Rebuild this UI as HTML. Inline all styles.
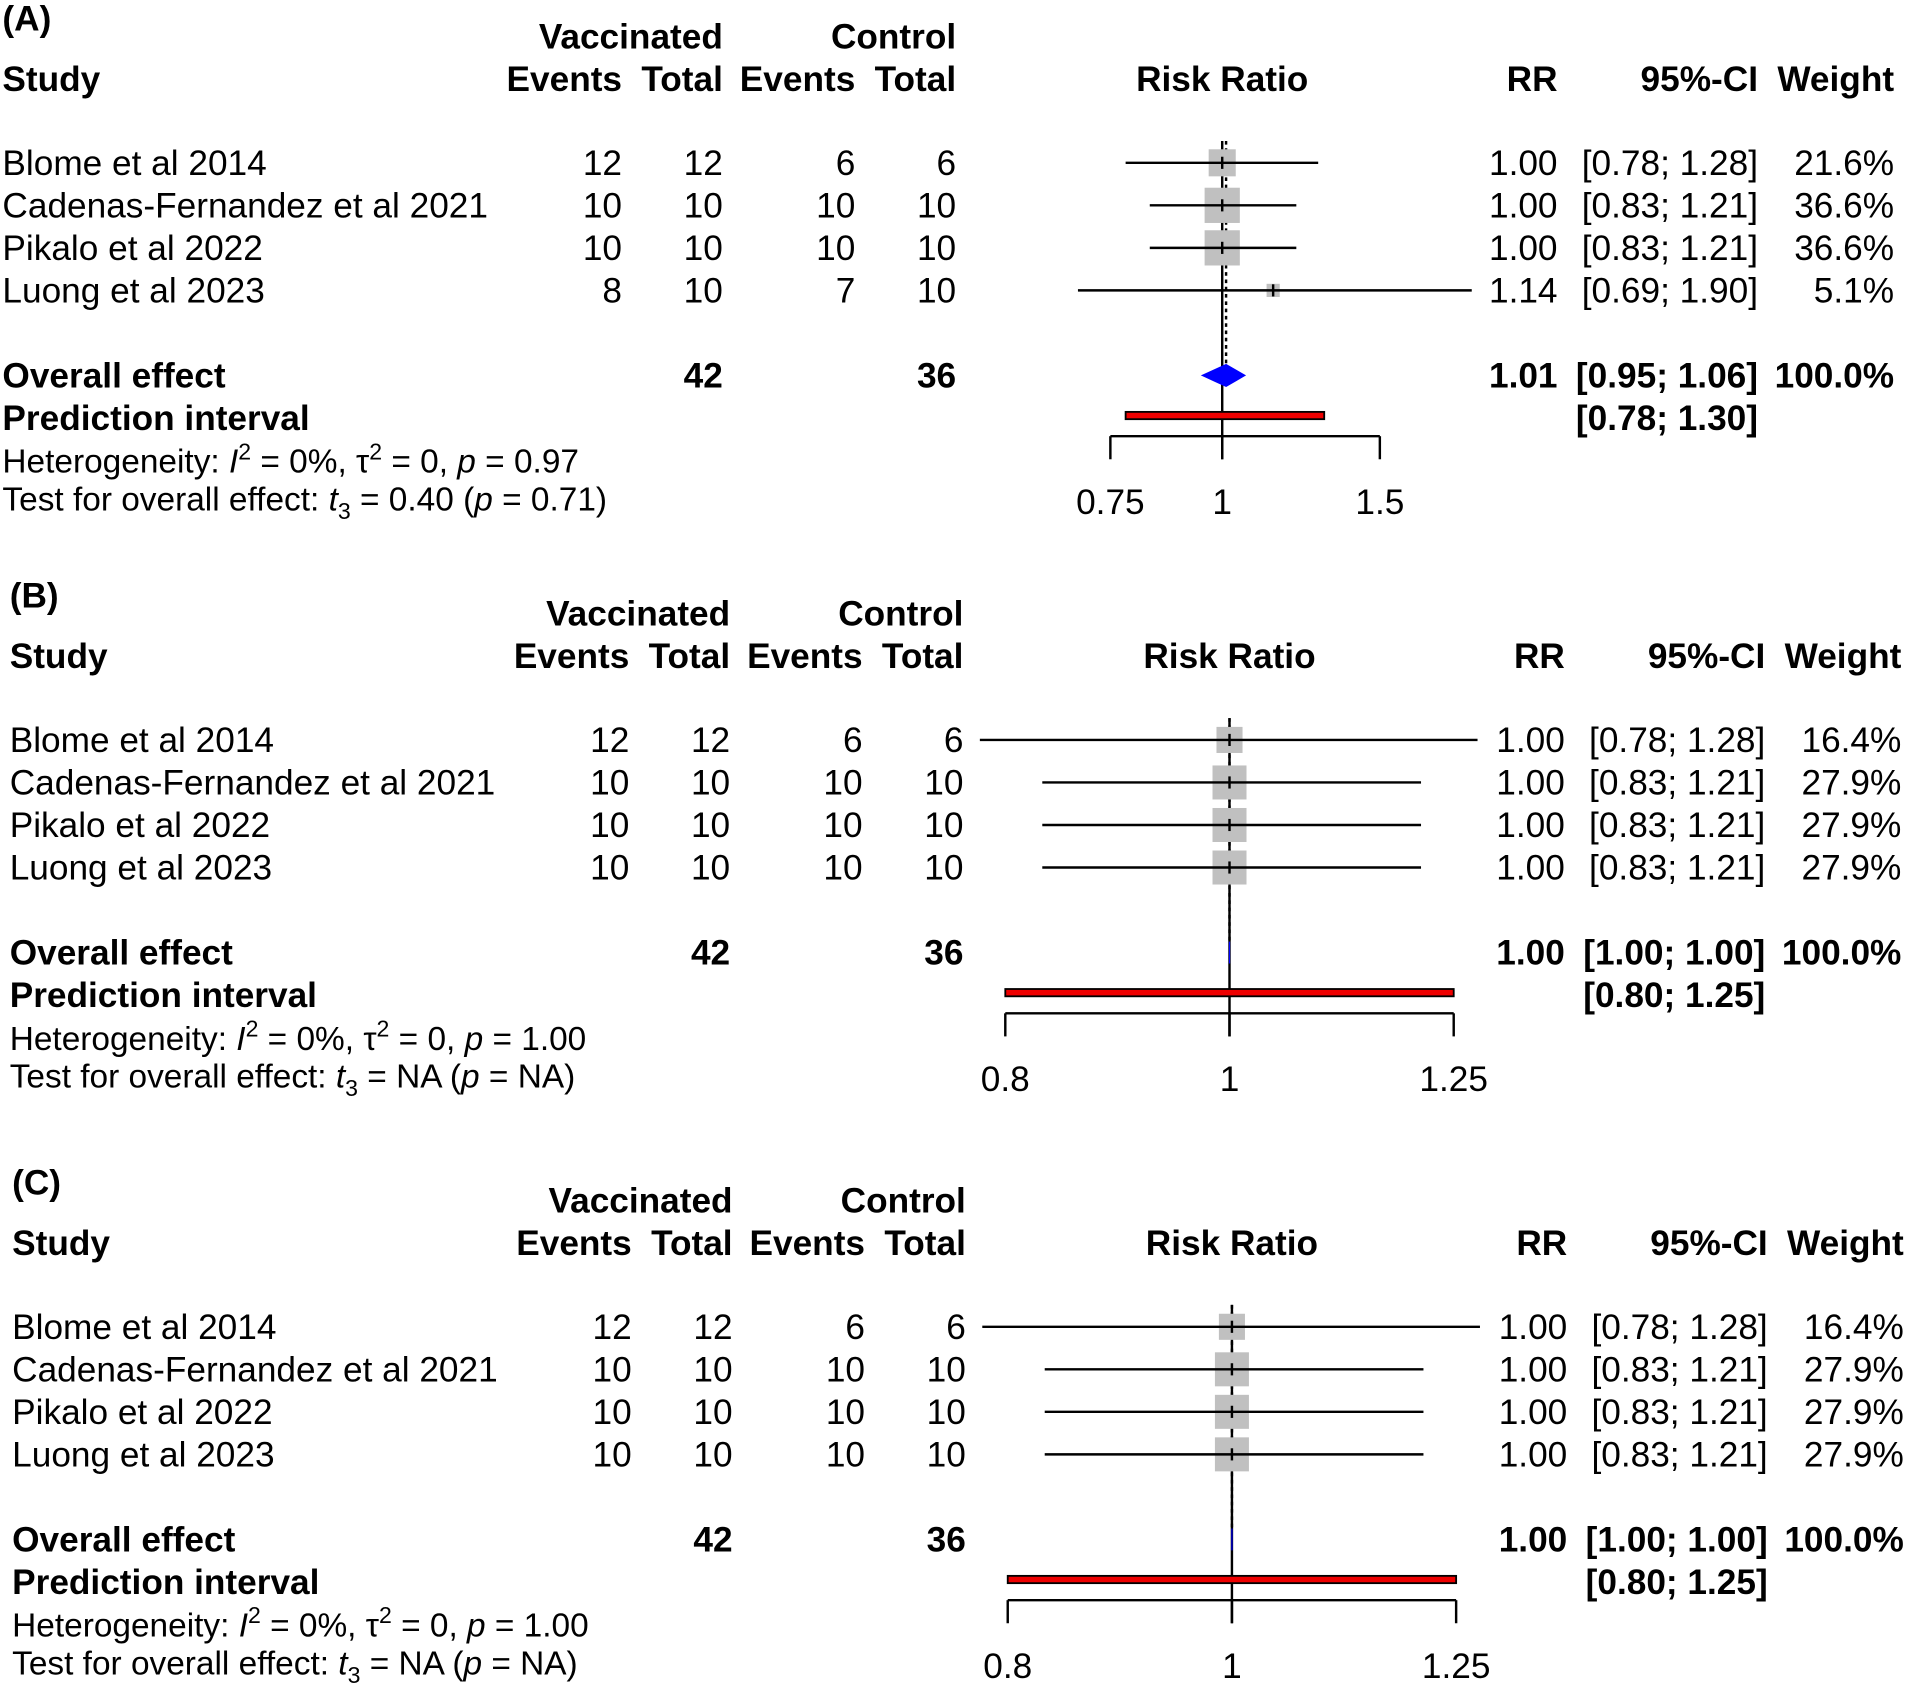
<!DOCTYPE html>
<html><head><meta charset="utf-8">
<style>
html,body{margin:0;padding:0;background:#fff;}
svg{display:block;font-family:"Liberation Sans",Arial,sans-serif;}
</style></head>
<body>
<svg id="fig" width="1905" height="1684" viewBox="0 0 1568 1386" preserveAspectRatio="none" xmlns="http://www.w3.org/2000/svg"></svg>
<script>
// ---- data ----
const studies = ["Blome et al 2014","Cadenas-Fernandez et al 2021","Pikalo et al 2022","Luong et al 2023"];
const vacEventsA = [12,10,10,8];
const vacTotalA = [12,10,10,10];
const ctlEventsA = [6,10,10,7];
const ctlTotalA = [6,10,10,10];
const rrA = [1.00,1.00,1.00,1.14];
const lowA = [0.78,0.83,0.83,0.69];
const highA = [1.28,1.21,1.21,1.90];
const weightA = [21.6,36.6,36.6,5.1];
const overallA = [1.01,0.95,1.06];
const predA = [0.78,1.30];
const ticksA = [0.75,1,1.5];
const tickLabelsA = ["0.75","1","1.5"];
const hetA = ["0%","0","0.97"];
const testA = ["0.40","0.71"];

const vacEventsB = [12,10,10,10];
const vacTotalB = [12,10,10,10];
const ctlEventsB = [6,10,10,10];
const ctlTotalB = [6,10,10,10];
const rrB = [1.00,1.00,1.00,1.00];
const lowB = [0.78,0.83,0.83,0.83];
const highB = [1.28,1.21,1.21,1.21];
const weightB = [16.4,27.9,27.9,27.9];
const overallB = [1.00,1.00,1.00];
const predB = [0.80,1.25];
const ticksB = [0.8,1,1.25];
const tickLabelsB = ["0.8","1","1.25"];
const hetB = ["0%","0","1.00"];
const testB = ["NA","NA"];

const vacEventsC = [12,10,10,10];
const vacTotalC = [12,10,10,10];
const ctlEventsC = [6,10,10,10];
const ctlTotalC = [6,10,10,10];
const rrC = [1.00,1.00,1.00,1.00];
const lowC = [0.78,0.83,0.83,0.83];
const highC = [1.28,1.21,1.21,1.21];
const weightC = [16.4,27.9,27.9,27.9];
const overallC = [1.00,1.00,1.00];
const predC = [0.80,1.25];
const ticksC = [0.8,1,1.25];
const tickLabelsC = ["0.8","1","1.25"];
const hetC = ["0%","0","1.00"];
const testC = ["NA","NA"];

const NS = "http://www.w3.org/2000/svg";
const svg = document.getElementById("fig");

function mk(tag, attrs, parent){
  const e = document.createElementNS(NS, tag);
  for (const k in attrs) e.setAttribute(k, attrs[k]);
  parent.appendChild(e);
  return e;
}
function txt(parent, x, y, s, anchor, bold){
  const t = mk("text", {x:x, y:y, "font-size":29, "text-anchor":anchor||"start", "font-weight":bold?"bold":"normal", fill:"#000"}, parent);
  t.textContent = s;
  return t;
}

function drawPanel(p){
  const g = mk("g", {transform:"translate("+p.dx+","+p.dy+")"}, svg);
  
  
  const xs = v => p.cx + p.scale*Math.log(v);
  const maxW = Math.max(...p.weight);

  let t;
  t = txt(g, 2, 25, "("+p.letter+")", "start", true);
  
  
  t = txt(g, 595, 40, "Vaccinated", "end", true);
  
  
  t = txt(g, 787, 40, "Control", "end", true);
  
  
  const hdr = [[2,"Study","start","study-header"],[512,"Events","end","vaccinated-events-header"],[595,"Total","end","vaccinated-total-header"],[704,"Events","end","control-events-header"],[787,"Total","end","control-total-header"],[p.cx,"Risk Ratio","middle","risk-ratio-header"],[1282,"RR","end","rr-header"],[1447,"95%-CI","end","ci-header"],[1559,"Weight","end","weight-header"]];
  hdr.forEach(h=>{
    const e = txt(g, h[0], 75, h[1], h[2], true);
    
    
  });

  const yTop = 116, yAxis = p.axisY;
  let ln = mk("line", {x1:xs(1), x2:xs(1), y1:yTop, y2:yAxis+19, stroke:"#000", "stroke-width":2}, g);
  
  

  ln = mk("line", {x1:xs(p.overall[0]), x2:xs(p.overall[0]), y1:yTop, y2:300, stroke:"#000", "stroke-width":2, "stroke-dasharray":"3,3"}, g);
  
  

  studies.forEach((s,i)=>{
    const cy = 134 + 35*i, by = 144 + 35*i;
    let e = txt(g, 2, by, s, "start", false);
    
    
    e = txt(g, 512, by, String(p.ve[i]), "end", false);
    
    
    e = txt(g, 595, by, String(p.vt[i]), "end", false);
    
    
    e = txt(g, 704, by, String(p.ce[i]), "end", false);
    
    
    e = txt(g, 787, by, String(p.ct[i]), "end", false);
    
    
    e = txt(g, 1282, by, p.rr[i].toFixed(2), "end", false);
    
    
    e = txt(g, 1447, by, "["+p.low[i].toFixed(2)+"; "+p.high[i].toFixed(2)+"]", "end", false);
    
    
    e = txt(g, 1559, by, p.weight[i].toFixed(1)+"%", "end", false);
    
    

    const sz = p.maxSq*Math.sqrt(p.weight[i]/maxW);
    e = mk("rect", {x:xs(p.rr[i])-sz/2, y:cy-sz/2, width:sz, height:sz, fill:"#c0c0c0"}, g);
    
    
    e = mk("line", {x1:xs(p.low[i]), x2:xs(p.high[i]), y1:cy, y2:cy, stroke:"#000", "stroke-width":2}, g);
    
    
    e = mk("line", {x1:xs(p.rr[i]), x2:xs(p.rr[i]), y1:cy-5, y2:cy+5, stroke:"#000", "stroke-width":2}, g);
    
    
  });

  let e = txt(g, 2, 319, "Overall effect", "start", true);
  
  
  e = txt(g, 595, 319, String(p.vt.reduce((a,b)=>a+b,0)), "end", true);
  
  
  e = txt(g, 787, 319, String(p.ct.reduce((a,b)=>a+b,0)), "end", true);
  
  
  e = txt(g, 1282, 319, p.overall[0].toFixed(2), "end", true);
  
  
  e = txt(g, 1447, 319, "["+p.overall[1].toFixed(2)+"; "+p.overall[2].toFixed(2)+"]", "end", true);
  
  
  e = txt(g, 1559, 319, "100.0%", "end", true);
  
  
  const dy = 309;
  e = mk("polygon", {points:[xs(p.overall[1])+","+dy, xs(p.overall[0])+","+(dy-9), xs(p.overall[2])+","+dy, xs(p.overall[0])+","+(dy+9)].join(" "), fill:"#0000ff", stroke:"#0000ff", "stroke-width":1}, g);
  
  

  e = txt(g, 2, 354, "Prediction interval", "start", true);
  
  
  e = txt(g, 1447, 354, "["+p.pred[0].toFixed(2)+"; "+p.pred[1].toFixed(2)+"]", "end", true);
  
  
  e = mk("rect", {x:xs(p.pred[0]), y:p.axisY-20, width:xs(p.pred[1])-xs(p.pred[0]), height:6, fill:"#ee0000", stroke:"#000", "stroke-width":1.5}, g);
  
  

  e = mk("line", {x1:xs(p.ticks[0]), x2:xs(p.ticks[p.ticks.length-1]), y1:yAxis, y2:yAxis, stroke:"#000", "stroke-width":2}, g);
  
  
  p.ticks.forEach((v,i)=>{
    let k = mk("line", {x1:xs(v), x2:xs(v), y1:yAxis, y2:yAxis+19, stroke:"#000", "stroke-width":2}, g);
    
    
    k = txt(g, xs(v), yAxis+64, p.tickLabels[i], "middle", false);
    
    
  });

  const h = mk("text", {x:2, y:389, "font-size":27.5, fill:"#000"}, g);
  
  
  h.innerHTML = 'Heterogeneity: <tspan font-style="italic">I</tspan><tspan font-size="19" dy="-11">2</tspan><tspan dy="11"> = '+p.het[0]+', τ</tspan><tspan font-size="19" dy="-11">2</tspan><tspan dy="11"> = '+p.het[1]+', </tspan><tspan font-style="italic">p</tspan> = '+p.het[2];
  const tt = mk("text", {x:2, y:420, "font-size":27.5, fill:"#000"}, g);
  
  
  tt.innerHTML = 'Test for overall effect: <tspan font-style="italic">t</tspan><tspan font-size="19" dy="7">3</tspan><tspan dy="-7"> = '+p.test[0]+' (</tspan><tspan font-style="italic">p</tspan> = '+p.test[1]+')';
}

drawPanel({letter:"A", dx:0, dy:0, cx:1006, scale:320, axisY:359, maxSq:29,
  ve:vacEventsA, vt:vacTotalA, ce:ctlEventsA, ct:ctlTotalA, rr:rrA, low:lowA, high:highA, weight:weightA,
  overall:overallA, pred:predA, ticks:ticksA, tickLabels:tickLabelsA, het:hetA, test:testA});
drawPanel({letter:"B", dx:6, dy:475, cx:1006, scale:827, axisY:359, maxSq:28,
  ve:vacEventsB, vt:vacTotalB, ce:ctlEventsB, ct:ctlTotalB, rr:rrB, low:lowB, high:highB, weight:weightB,
  overall:overallB, pred:predB, ticks:ticksB, tickLabels:tickLabelsB, het:hetB, test:testB});
drawPanel({letter:"C", dx:8, dy:958, cx:1006, scale:827, axisY:359, maxSq:28,
  ve:vacEventsC, vt:vacTotalC, ce:ctlEventsC, ct:ctlTotalC, rr:rrC, low:lowC, high:highC, weight:weightC,
  overall:overallC, pred:predC, ticks:ticksC, tickLabels:tickLabelsC, het:hetC, test:testC});
</script>
</body></html>
